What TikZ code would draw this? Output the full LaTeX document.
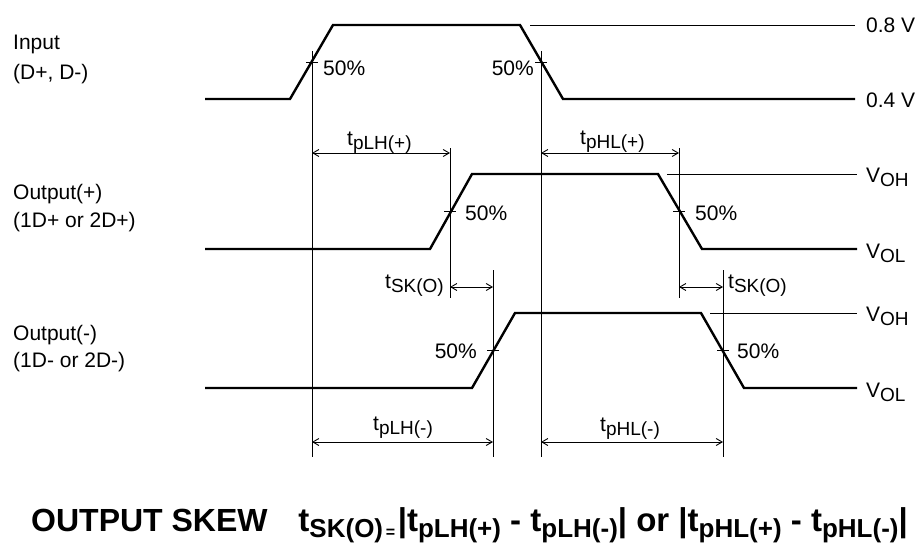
\documentclass[tikz,border=0pt]{standalone}
\usepackage{fontspec}
\setmainfont{Liberation Sans}
\usetikzlibrary{arrows.meta}
\newcommand{\ts}[1]{t\raisebox{-4.5pt}{\fontsize{19}{19}\selectfont #1}}
\newcommand{\vs}[1]{V\raisebox{-4.5pt}{\fontsize{19}{19}\selectfont #1}}
\newcommand{\bts}[1]{t\raisebox{-6.5pt}{\fontsize{26}{26}\selectfont\bfseries #1}}
\begin{document}
\begin{tikzpicture}[x=1pt,y=-1pt,
  wave/.style={line width=2.4pt,line join=miter},
  refl/.style={line width=0.9pt},
  dimline/.style={line width=0.9pt,{Straight Barb[length=6pt,width=7pt]}-{Straight Barb[length=6pt,width=7pt]}},
  lbl/.style={inner sep=0pt,font=\fontsize{21}{21}\selectfont},
  big/.style={inner sep=0pt,font=\fontsize{32}{32}\selectfont\bfseries},
  bigf/.style={inner sep=0pt,font=\fontsize{33}{33}\selectfont\bfseries}]
\useasboundingbox[fill=white] (0,0) rectangle (921,551);
% ---------- waveforms ----------
\coordinate (i0) at (205,99);  \coordinate (i1) at (290,99);  \coordinate (i2) at (333,25);
\coordinate (i3) at (520,25);  \coordinate (i4) at (563,99);  \coordinate (i5) at (855,99);
\draw[wave] (i0)--(i1)--(i2)--(i3)--(i4)--(i5);
\coordinate (p0) at (205,249); \coordinate (p1) at (430,249); \coordinate (p2) at (472,174);
\coordinate (p3) at (658,174); \coordinate (p4) at (702,249); \coordinate (p5) at (857,249);
\draw[wave] (p0)--(p1)--(p2)--(p3)--(p4)--(p5);
\coordinate (m0) at (205,388); \coordinate (m1) at (472,388); \coordinate (m2) at (515,313);
\coordinate (m3) at (701,313); \coordinate (m4) at (744,388); \coordinate (m5) at (857,388);
\draw[wave] (m0)--(m1)--(m2)--(m3)--(m4)--(m5);
% ---------- reference level lines ----------
\coordinate (ra) at (530,25);  \coordinate (rb) at (855,25);  \draw[refl] (ra)--(rb);
\coordinate (pa) at (667,174); \coordinate (pb) at (857,174); \draw[refl] (pa)--(pb);
\coordinate (ma) at (710,313); \coordinate (mb) at (857,313); \draw[refl] (ma)--(mb);
% ---------- vertical timing lines ----------
\coordinate (v1t) at (312,51);  \coordinate (v1b) at (312,457); \draw[refl] (v1t)--(v1b);
\coordinate (v2t) at (541,51);  \coordinate (v2b) at (541,457); \draw[refl] (v2t)--(v2b);
\coordinate (v3t) at (450,148); \coordinate (v3b) at (450,298); \draw[refl] (v3t)--(v3b);
\coordinate (v4t) at (679,148); \coordinate (v4b) at (679,298); \draw[refl] (v4t)--(v4b);
\coordinate (v5t) at (493,270); \coordinate (v5b) at (493,457); \draw[refl] (v5t)--(v5b);
\coordinate (v6t) at (723,270); \coordinate (v6b) at (723,457); \draw[refl] (v6t)--(v6b);
% ---------- 50% ticks ----------
\coordinate (k1a) at (306,62);    \coordinate (k1b) at (318,62);    \draw[refl] (k1a)--(k1b);
\coordinate (k2a) at (535,62);    \coordinate (k2b) at (547,62);    \draw[refl] (k2a)--(k2b);
\coordinate (k3a) at (444,211.5); \coordinate (k3b) at (456,211.5); \draw[refl] (k3a)--(k3b);
\coordinate (k4a) at (673,211.5); \coordinate (k4b) at (685,211.5); \draw[refl] (k4a)--(k4b);
\coordinate (k5a) at (487,350.5); \coordinate (k5b) at (499,350.5); \draw[refl] (k5a)--(k5b);
\coordinate (k6a) at (717,350.5); \coordinate (k6b) at (729,350.5); \draw[refl] (k6a)--(k6b);
% ---------- dimension arrows ----------
\coordinate (d1a) at (312,153); \coordinate (d1b) at (450,153); \draw[dimline] (d1a)--(d1b);
\coordinate (d2a) at (541,153); \coordinate (d2b) at (679,153); \draw[dimline] (d2a)--(d2b);
\coordinate (d3a) at (450,287); \coordinate (d3b) at (493,287); \draw[dimline] (d3a)--(d3b);
\coordinate (d4a) at (679,287); \coordinate (d4b) at (723,287); \draw[dimline] (d4a)--(d4b);
\coordinate (d5a) at (312,442); \coordinate (d5b) at (493,442); \draw[dimline] (d5a)--(d5b);
\coordinate (d6a) at (541,442); \coordinate (d6b) at (723,442); \draw[dimline] (d6a)--(d6b);
% ---------- labels ----------
\node[lbl,anchor=base west] (lin1) at (13,50) {Input};
\node[lbl,anchor=base west] (lin2) at (13,79) {(D+, D-)};
\node[lbl,anchor=base west] (lop1) at (13,199) {Output(+)};
\node[lbl,anchor=base west] (lop2) at (13,227) {(1D+ or 2D+)};
\node[lbl,anchor=base west] (lom1) at (13,340) {Output(-)};
\node[lbl,anchor=base west] (lom2) at (13,367) {(1D- or 2D-)};
\node[lbl,anchor=base west] (v08) at (866,33) {0.8 V};
\node[lbl,anchor=base west] (v04) at (866,107) {0.4 V};
\node[lbl,anchor=base west] (voh1) at (866,182) {\vs{OH}};
\node[lbl,anchor=base west] (vol1) at (866,258) {\vs{OL}};
\node[lbl,anchor=base west] (voh2) at (866,321) {\vs{OH}};
\node[lbl,anchor=base west] (vol2) at (866,397) {\vs{OL}};
\node[lbl,anchor=base west] (f1) at (323,76) {50\%};
\node[lbl,anchor=base east] (f2) at (534,76) {50\%};
\node[lbl,anchor=base west] (f3) at (465,220) {50\%};
\node[lbl,anchor=base west] (f4) at (695,220) {50\%};
\node[lbl,anchor=base east] (f5) at (477,358) {50\%};
\node[lbl,anchor=base west] (f6) at (737,358) {50\%};
\node[lbl,anchor=base west] (t1) at (347,145) {\ts{pLH(+)}};
\node[lbl,anchor=base west] (t2) at (580,144) {\ts{pHL(+)}};
\node[lbl,anchor=base east] (t3) at (444,288) {\ts{SK(O)}};
\node[lbl,anchor=base west] (t4) at (728,288) {\ts{SK(O)}};
\node[lbl,anchor=base west] (t5) at (373,430) {\ts{pLH(-)}};
\node[lbl,anchor=base west] (t6) at (600,431) {\ts{pHL(-)}};
\node[big,anchor=base west] (title) at (31,531) {OUTPUT SKEW};
\node[bigf,anchor=base east] (formula) at (908,531) {\bts{SK(O)}\raisebox{-6.5pt}{\fontsize{16}{16}\selectfont\bfseries\,=\,}|\bts{pLH(+)} - \bts{pLH(-)}| or |\bts{pHL(+)} - \bts{pHL(-)}|};
\end{tikzpicture}
\end{document}
